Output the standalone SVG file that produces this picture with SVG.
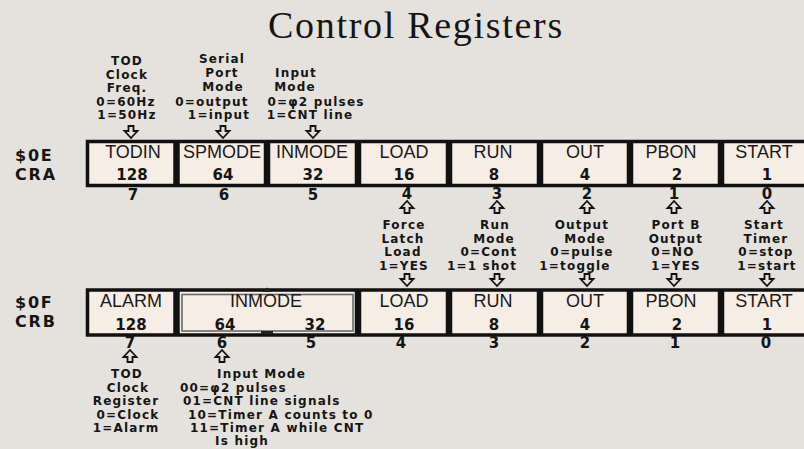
<svg xmlns="http://www.w3.org/2000/svg" width="804" height="449" viewBox="0 0 804 449">
<style>
.title{font-family:"Liberation Serif","Times New Roman",serif;font-size:38px;fill:#151515;letter-spacing:1.7px}
.reg{font-family:"DejaVu Sans",Verdana,sans-serif;font-weight:bold;font-size:16px;fill:#151515;letter-spacing:1.8px}
.nm{font-family:"Liberation Sans",Arial,sans-serif;font-size:18px;fill:#1a1a1a;text-anchor:middle}
.val{font-family:"DejaVu Sans",Verdana,sans-serif;font-weight:bold;font-size:15px;fill:#151515;text-anchor:middle}
.bit{font-family:"DejaVu Sans",Verdana,sans-serif;font-weight:bold;font-size:15px;fill:#151515;text-anchor:middle}
.ann{font-family:"DejaVu Sans",Verdana,sans-serif;font-weight:bold;font-size:12px;fill:#151515;text-anchor:middle;letter-spacing:1.2px}
.annl{font-family:"DejaVu Sans",Verdana,sans-serif;font-weight:bold;font-size:12px;fill:#151515;letter-spacing:1.2px}
.cell{fill:#f6ede5}
.frame{fill:none;stroke:#111;stroke-width:3.5}
.div{stroke:#111;stroke-width:6.5}
.arr{fill:#e5e2dd;stroke:#111;stroke-width:1.8;stroke-linejoin:miter}
</style>
<defs>
<path id="ad" class="arr" d="M-2.5,0 H2.5 V5 H6.5 L0,12 L-6.5,5 H-2.5 Z"/>
<path id="au" class="arr" d="M-2.5,12 H2.5 V7 H6.5 L0,0 L-6.5,7 H-2.5 Z"/>
</defs>
<rect width="804" height="449" fill="#e5e2dd"/>
<text class="title" x="416" y="38" text-anchor="middle">Control Registers</text>

<g id="labels">
<text class="reg" x="15" y="161">$0E</text>
<text class="reg" x="15" y="180">CRA</text>
<text class="reg" x="15" y="307.5">$0F</text>
<text class="reg" x="15" y="326.5">CRB</text>
</g>

<g id="cra">
<rect class="cell" x="87.5" y="141.5" width="730" height="44"/>
<rect class="frame" x="87.5" y="141.5" width="730" height="44"/>
<line class="div" x1="176.5" y1="141" x2="176.5" y2="186"/>
<line class="div" x1="267" y1="141" x2="267" y2="186"/>
<line class="div" x1="358" y1="141" x2="358" y2="186"/>
<line class="div" x1="449" y1="141" x2="449" y2="186"/>
<line class="div" x1="540" y1="141" x2="540" y2="186"/>
<line class="div" x1="630" y1="141" x2="630" y2="186"/>
<line class="div" x1="721" y1="141" x2="721" y2="186"/>
<g id="cra-todin"><text class="nm" x="133" y="158">TODIN</text><text class="val" x="132" y="180">128</text></g>
<g id="cra-spmode"><text class="nm" x="222" y="158">SPMODE</text><text class="val" x="223" y="180">64</text></g>
<g id="cra-inmode"><text class="nm" x="312" y="158">INMODE</text><text class="val" x="313" y="180">32</text></g>
<g id="cra-load"><text class="nm" x="404" y="158">LOAD</text><text class="val" x="404" y="180">16</text></g>
<g id="cra-run"><text class="nm" x="493" y="158">RUN</text><text class="val" x="494" y="180">8</text></g>
<g id="cra-out"><text class="nm" x="585" y="158">OUT</text><text class="val" x="585" y="180">4</text></g>
<g id="cra-pbon"><text class="nm" x="671" y="158">PBON</text><text class="val" x="677" y="180">2</text></g>
<g id="cra-start"><text class="nm" x="764" y="158">START</text><text class="val" x="767" y="180">1</text></g>
</g>

<g id="crb">
<rect class="cell" x="87.5" y="290" width="730" height="45"/>
<rect class="frame" x="87.5" y="290" width="730" height="45"/>
<rect x="182" y="294.5" width="171" height="36.5" fill="none" stroke="#6a6a6a" stroke-width="1.6"/>
<path d="M262,292 L267,287.5 L272,292 Z" fill="#222"/>
<rect x="261" y="331" width="12" height="3" fill="#222"/>
<line class="div" x1="176.5" y1="290" x2="176.5" y2="335"/>
<line class="div" x1="358" y1="290" x2="358" y2="335"/>
<line class="div" x1="449" y1="290" x2="449" y2="335"/>
<line class="div" x1="540" y1="290" x2="540" y2="335"/>
<line class="div" x1="630" y1="290" x2="630" y2="335"/>
<line class="div" x1="721" y1="290" x2="721" y2="335"/>
<g id="crb-alarm"><text class="nm" x="131" y="307">ALARM</text><text class="val" x="131" y="330">128</text></g>
<g id="crb-inmode"><text class="nm" x="266" y="307">INMODE</text><text class="val" x="225" y="330">64</text><text class="val" x="315" y="330">32</text></g>
<g id="crb-load"><text class="nm" x="404" y="307">LOAD</text><text class="val" x="404" y="330">16</text></g>
<g id="crb-run"><text class="nm" x="493" y="307">RUN</text><text class="val" x="494" y="330">8</text></g>
<g id="crb-out"><text class="nm" x="585" y="307">OUT</text><text class="val" x="585" y="330">4</text></g>
<g id="crb-pbon"><text class="nm" x="671" y="307">PBON</text><text class="val" x="677" y="330">2</text></g>
<g id="crb-start"><text class="nm" x="764" y="307">START</text><text class="val" x="767" y="330">1</text></g>
</g>

<g id="bits">
<text class="bit" x="133" y="200">7</text>
<text class="bit" x="224" y="200">6</text>
<text class="bit" x="313" y="200">5</text>
<text class="bit" x="407" y="199">4</text>
<text class="bit" x="497" y="199">3</text>
<text class="bit" x="587" y="199">2</text>
<text class="bit" x="674" y="199">1</text>
<text class="bit" x="767" y="199">0</text>
<text class="bit" x="130" y="348">7</text>
<text class="bit" x="222" y="348">6</text>
<text class="bit" x="311" y="348">5</text>
<text class="bit" x="401" y="348">4</text>
<text class="bit" x="494" y="348">3</text>
<text class="bit" x="585" y="348">2</text>
<text class="bit" x="675" y="348">1</text>
<text class="bit" x="766" y="348">0</text>
</g>

<g id="connectors">
<use href="#ad" x="131" y="126"/>
<use href="#ad" x="223" y="126"/>
<use href="#ad" x="313" y="126"/>
<use href="#au" x="407" y="201"/>
<use href="#au" x="497" y="201"/>
<use href="#au" x="587" y="201"/>
<use href="#au" x="674" y="201"/>
<use href="#au" x="767" y="201"/>
<use href="#ad" x="407" y="274"/>
<use href="#ad" x="497" y="274"/>
<use href="#ad" x="587" y="274"/>
<use href="#ad" x="674" y="274"/>
<use href="#ad" x="767" y="274"/>
<use href="#au" x="130" y="350"/>
<use href="#au" x="222" y="350"/>
</g>

<g id="note-tod-freq">
<text class="ann" x="127" y="65">TOD</text>
<text class="ann" x="127" y="78.5">Clock</text>
<text class="ann" x="127" y="92">Freq.</text>
<text class="ann" x="126" y="105.5">0=60Hz</text>
<text class="ann" x="127" y="119">1=50Hz</text>
</g>
<g id="note-spmode">
<text class="ann" x="222" y="63">Serial</text>
<text class="ann" x="222" y="77">Port</text>
<text class="ann" x="223" y="91">Mode</text>
<text class="ann" x="212" y="105.5">0=output</text>
<text class="ann" x="219" y="119">1=input</text>
</g>
<g id="note-inmode-a">
<text class="ann" x="296" y="77">Input</text>
<text class="ann" x="295" y="91">Mode</text>
<text class="ann" x="316" y="105.5">0=φ2 pulses</text>
<text class="ann" x="310" y="119">1=CNT line</text>
</g>
<g id="note-load">
<text class="ann" x="404" y="229">Force</text>
<text class="ann" x="403" y="242.5">Latch</text>
<text class="ann" x="403" y="256">Load</text>
<text class="ann" x="404" y="269.5">1=YES</text>
</g>
<g id="note-run">
<text class="ann" x="495" y="229">Run</text>
<text class="ann" x="494" y="242.5">Mode</text>
<text class="ann" x="489" y="256">0=Cont</text>
<text class="ann" x="482" y="269.5">1=1 shot</text>
</g>
<g id="note-out">
<text class="ann" x="582" y="229">Output</text>
<text class="ann" x="585" y="242.5">Mode</text>
<text class="ann" x="582" y="256">0=pulse</text>
<text class="ann" x="575" y="269.5">1=toggle</text>
</g>
<g id="note-pbon">
<text class="ann" x="676" y="229">Port B</text>
<text class="ann" x="676" y="242.5">Output</text>
<text class="ann" x="673" y="256">0=NO</text>
<text class="ann" x="676" y="269.5">1=YES</text>
</g>
<g id="note-start">
<text class="ann" x="764" y="229">Start</text>
<text class="ann" x="766" y="242.5">Timer</text>
<text class="ann" x="766" y="256">0=stop</text>
<text class="ann" x="767" y="269.5">1=start</text>
</g>
<g id="note-alarm">
<text class="ann" x="127" y="378">TOD</text>
<text class="ann" x="128" y="391.5">Clock</text>
<text class="ann" x="126" y="405">Register</text>
<text class="ann" x="128" y="418.5">0=Clock</text>
<text class="ann" x="126" y="432">1=Alarm</text>
</g>
<g id="note-inmode-b">
<text class="annl" x="217" y="378">Input Mode</text>
<text class="annl" x="180" y="391.5">00=φ2 pulses</text>
<text class="annl" x="183" y="405">01=CNT line signals</text>
<text class="annl" x="188" y="418.5">10=Timer A counts to 0</text>
<text class="annl" x="190" y="432">11=Timer A while CNT</text>
<text class="annl" x="215" y="445">Is high</text>
</g>
</svg>
